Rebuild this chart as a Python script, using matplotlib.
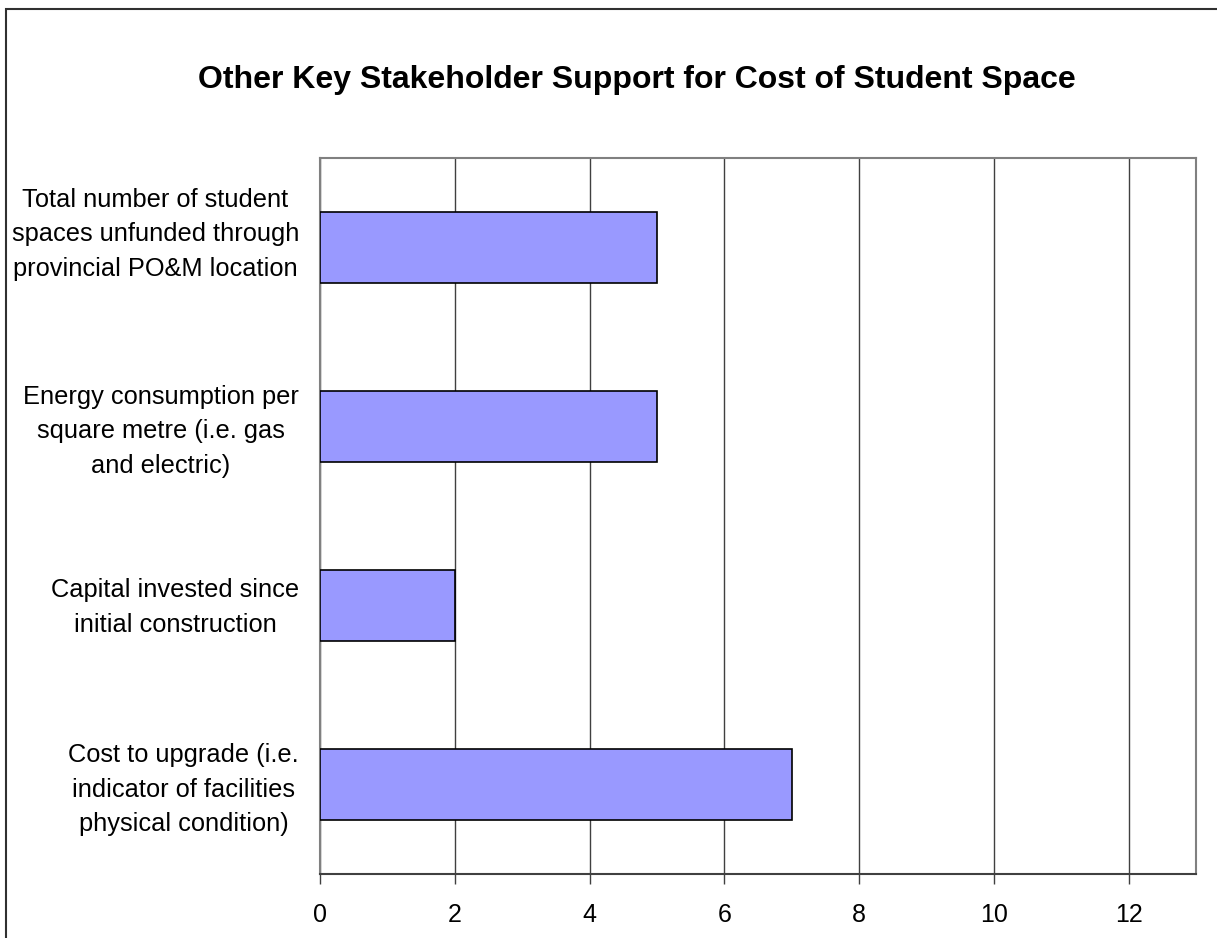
import matplotlib
matplotlib.use("Agg")
import matplotlib.pyplot as plt
from matplotlib.patches import Rectangle
from matplotlib.transforms import offset_copy

# chart data, top to bottom as drawn
categories = [
    "Total number of student\nspaces unfunded through\nprovincial PO&M location",
    "Energy consumption per\nsquare metre (i.e. gas\nand electric)",
    "Capital invested since\ninitial construction",
    "Cost to upgrade (i.e.\nindicator of facilities\nphysical condition)",
]
values = [5, 5, 2, 7]
x_ticks = [0, 2, 4, 6, 8, 10, 12]

# the original's category labels don't sit exactly on the bar centres (pixels, up = +)
label_shift = [13, -5, -2, -5]

plt.rcParams['font.family'] = ['Liberation Sans', 'DejaVu Sans']

W, H = 1217, 938
fig = plt.figure(figsize=(W / 100, H / 100), dpi=100)

# outer chart-area border (right and bottom edges are cut off in the original)
fig.patches.append(Rectangle((6 / W, -0.5), 1.2, 1.5 - 9 / H, transform=fig.transFigure,
                             fill=False, edgecolor='#303030', lw=1.5, zorder=0))

left, right, top, bottom = 320, 1196, 158, 874
ax = fig.add_axes([left / W, 1 - bottom / H, (right - left) / W, (bottom - top) / H])

pos = list(range(len(categories)))
ax.barh(pos, values, height=0.4, color='#9999ff', edgecolor='black', lw=1.2, zorder=3)

ax.set_xlim(0, 13)
ax.set_ylim(len(categories) - 0.5, -0.5)
ax.set_xticks(x_ticks)
ax.set_yticks([])
ax.tick_params(axis='x', length=7, width=1, color='#404040', pad=14, labelsize=18)

ytrans = ax.get_yaxis_transform()
for p, lab, dy in zip(pos, categories, label_shift):
    tr = offset_copy(ytrans, fig=fig, x=-21, y=dy, units='dots')
    ax.text(0, p, lab, transform=tr, ha='right', va='center', multialignment='center',
            linespacing=1.53, fontsize=18.3)

ax.grid(axis='x', color='#404040', lw=1, zorder=1)
for s in ('top', 'right', 'left'):
    ax.spines[s].set_color('#808080')
    ax.spines[s].set_linewidth(1.5)
ax.spines['bottom'].set_color('#404040')
ax.spines['bottom'].set_linewidth(1.5)

fig.text(637 / W, 1 - 80 / H, "Other Key Stakeholder Support for Cost of Student Space",
         ha='center', va='center', fontsize=23, fontweight='bold')

fig.savefig('out.png', dpi=100)
